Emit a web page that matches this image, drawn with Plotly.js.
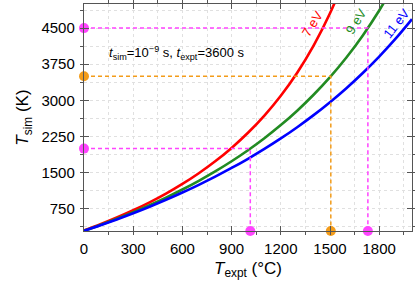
<!DOCTYPE html>
<html>
<head>
<meta charset="utf-8">
<script src="https://cdn.plot.ly/plotly-3.0.1.min.js"></script>
<style>html,body{margin:0;padding:0;background:#fff;}#chart{width:415px;height:285px;}</style>
</head>
<body>
<div id="chart"></div>
<script>
// T_expt (°C) sample points
var texpt = [0,100,200,300,400,500,600,700,800,900,1000,1100,1200,1300,1400,1500,1600,1700,1800,1900,2000];
// T_sim (K) for each activation energy
var tsim7eV  = [302.6,430.3,569.0,720.0,885.2,1066.7,1266.8,1488.8,1736.4,2014.2,2328.1,2685.8,3096.9,3574.7,4136.4,4806.6,5619.9];
var tsim9eV  = [295.5,416.1,544.5,681.2,827.3,983.7,1151.5,1332.0,1526.7,1737.4,1966.1,2215.2,2487.6,2786.8,3116.8,3482.6,3890.6,4348.3,4865.5,5454.7];
var tsim11eV = [291.2,407.6,529.9,658.7,794.2,937.3,1088.4,1248.3,1417.7,1597.7,1789.0,1993.0,2210.8,2443.9,2694.1,2963.2,3253.4,3567.4,3908.3,4279.5,4685.4];
// guide points (on the 9 eV curve)
var guideX = [1731, 1505, 1014];
var guideY = [4500, 3500, 2000];
var guideColors = ['#ff44ff', '#f39c1a', '#ff44ff'];
var curveLabels = ['7 eV', '9 eV', '11 eV'];
var yMin = 290;

var traces = [];
var curves = [tsim7eV, tsim9eV, tsim11eV];
var curveColors = ['#ff0000', '#228b22', '#0000ff'];
for (var c = 0; c < curves.length; c++) {
  traces.push({x: texpt.slice(0, curves[c].length), y: curves[c], mode: 'lines', type: 'scatter',
    line: {color: curveColors[c], width: 2.6, shape: 'spline'}, hoverinfo: 'skip'});
}
for (var i = 0; i < guideX.length; i++) {
  traces.push({x: [0, guideX[i], guideX[i]], y: [guideY[i], guideY[i], yMin], mode: 'lines', type: 'scatter',
    line: {color: guideColors[i], width: 1.5, dash: '4px,3px'}, hoverinfo: 'skip'});
  traces.push({x: [0, guideX[i]], y: [guideY[i], yMin], mode: 'markers', type: 'scatter', cliponaxis: false,
    marker: {color: guideColors[i], size: 10}, hoverinfo: 'skip'});
}

var axisCommon = {
  showline: true, mirror: 'ticks', linecolor: '#555', linewidth: 1.2,
  ticks: 'inside', ticklen: 5, tickcolor: '#555', tickwidth: 1,
  showgrid: true, gridcolor: '#e0e0e0', griddash: 'dot', gridwidth: 1,
  zeroline: false,
  tickfont: {family: 'Liberation Sans, Arial, sans-serif', size: 15, color: '#000'}
};

var layout = {
  width: 415, height: 285,
  margin: {l: 84, r: 3, t: 4, b: 54},
  showlegend: false,
  paper_bgcolor: '#fff', plot_bgcolor: '#fff',
  font: {family: 'Liberation Sans, Arial, sans-serif', color: '#000'},
  xaxis: Object.assign({}, axisCommon, {
    range: [0, 2000], tick0: 0, dtick: 300, ticklabelstandoff: 4,
    minor: {dtick: 150, ticklen: 3, tickcolor: '#555', showgrid: true, gridcolor: '#e0e0e0', griddash: 'dot'},
    title: {text: '<i>T</i><sub>expt</sub> (°C)', font: {size: 17}, standoff: 5}
  }),
  yaxis: Object.assign({}, axisCommon, {
    range: [yMin, 5000], tick0: 0, dtick: 750, ticklabelstandoff: 5,
    minor: {dtick: 375, ticklen: 3, tickcolor: '#555', showgrid: true, gridcolor: '#e0e0e0', griddash: 'dot'},
    title: {text: '<i>T</i><sub>sim</sub> (K)', font: {size: 17}, standoff: 8}
  }),
  annotations: [
    {xref: 'paper', yref: 'paper', x: 0.07, y: 0.785, xanchor: 'left', yanchor: 'middle', showarrow: false,
     text: '<i>t</i><sub>sim</sub>=10<sup>−9</sup> s, <i>t</i><sub>expt</sub>=3600 s', font: {size: 13}},
    {x: 1395, y: 4590, showarrow: false, text: curveLabels[0], textangle: -58, font: {size: 13, color: '#ff0000'}},
    {x: 1660, y: 4630, showarrow: false, text: curveLabels[1], textangle: -58, font: {size: 13, color: '#228b22'}},
    {x: 1905, y: 4590, showarrow: false, text: curveLabels[2], textangle: -52, font: {size: 13, color: '#0000ff'}}
  ]
};

Plotly.newPlot('chart', traces, layout, {staticPlot: true, displayModeBar: false});
</script>
</body>
</html>
